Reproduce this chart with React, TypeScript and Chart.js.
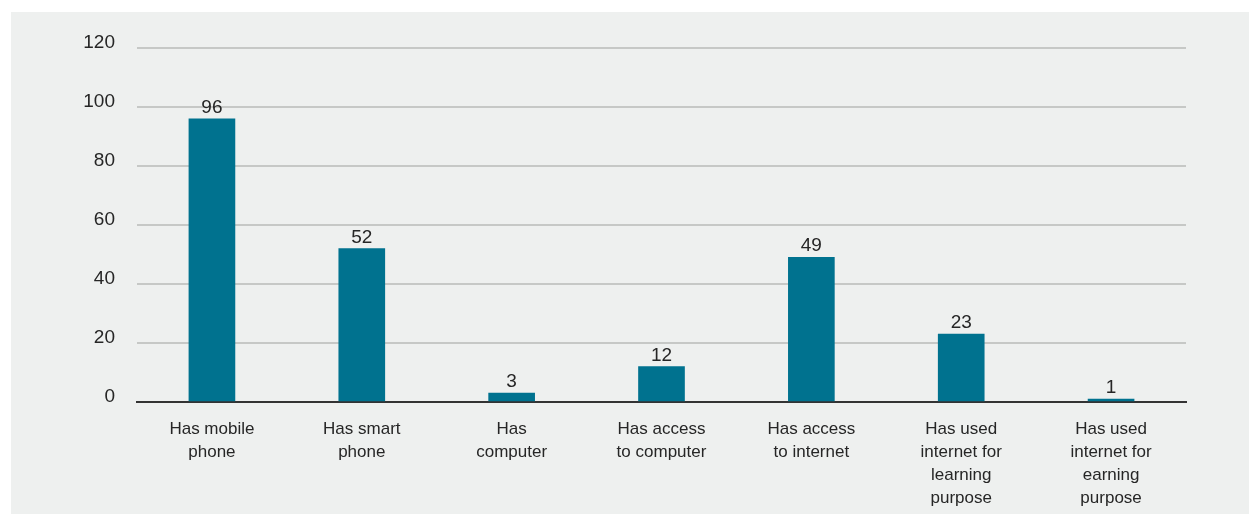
import React, { useEffect, useRef } from "react";
import { Chart, registerables } from "chart.js";

Chart.register(...registerables);

const categories: string[][] = [
  ["Has mobile", "phone"],
  ["Has smart", "phone"],
  ["Has", "computer"],
  ["Has access", "to computer"],
  ["Has access", "to internet"],
  ["Has used", "internet for", "learning", "purpose"],
  ["Has used", "internet for", "earning", "purpose"],
];
const values: number[] = [96, 52, 3, 12, 49, 23, 1];
const yTicks: number[] = [0, 20, 40, 60, 80, 100, 120];

const FONT = "'Liberation Sans', Arial, Helvetica, sans-serif";
const TEXT = "#262626";

const valueLabels = {
  id: "valueLabels",
  afterDatasetsDraw(chart: any) {
    const ctx = chart.ctx;
    const meta = chart.getDatasetMeta(0);
    ctx.save();
    ctx.font = `19px ${FONT}`;
    ctx.fillStyle = TEXT;
    ctx.textAlign = "center";
    ctx.textBaseline = "alphabetic";
    meta.data.forEach((bar: any, i: number) => {
      ctx.fillText(String(values[i]), bar.x, bar.y - 6);
    });
    ctx.restore();
  },
};

export default function App() {
  const ref = useRef<HTMLCanvasElement>(null);
  useEffect(() => {
    if (!ref.current) return;
    const chart = new Chart(ref.current, {
      type: "bar",
      data: {
        labels: categories,
        datasets: [
          {
            data: values,
            backgroundColor: "#00728f",
            barThickness: 46,
            categoryPercentage: 1,
          },
        ],
      },
      options: {
        animation: false,
        responsive: false,
        maintainAspectRatio: false,
        layout: { padding: { left: 0, right: 63, top: 36, bottom: 0 } },
        plugins: {
          legend: { display: false },
          tooltip: { enabled: false },
        },
        scales: {
          x: {
            grid: { display: false, drawTicks: false },
            border: { display: true, color: "#333333", width: 2 },
            ticks: {
              font: { family: FONT, size: 17, lineHeight: 1.35 },
              color: TEXT,
              padding: 16,
              maxRotation: 0,
              autoSkip: false,
            },
            afterFit: (s: any) => {
              s.height = 112;
            },
          },
          y: {
            min: 0,
            max: 120,
            afterBuildTicks: (s: any) => {
              s.ticks = yTicks.map((v) => ({ value: v }));
            },
            grid: { color: "#c6c8c6", lineWidth: 2, drawTicks: false },
            border: { display: false },
            ticks: {
              font: { family: FONT, size: 19 },
              color: TEXT,
              padding: 22,
              labelOffset: -5,
            },
            afterFit: (s: any) => {
              s.width = 126;
            },
          },
        },
      },
      plugins: [valueLabels],
    });
    return () => chart.destroy();
  }, []);
  return (
    <div
      style={{
        position: "absolute",
        left: 11,
        top: 12,
        width: 1238,
        height: 502,
        background: "#eef0ef",
      }}
    >
      <canvas ref={ref} width={1238} height={502} style={{ display: "block" }} />
    </div>
  );
}
